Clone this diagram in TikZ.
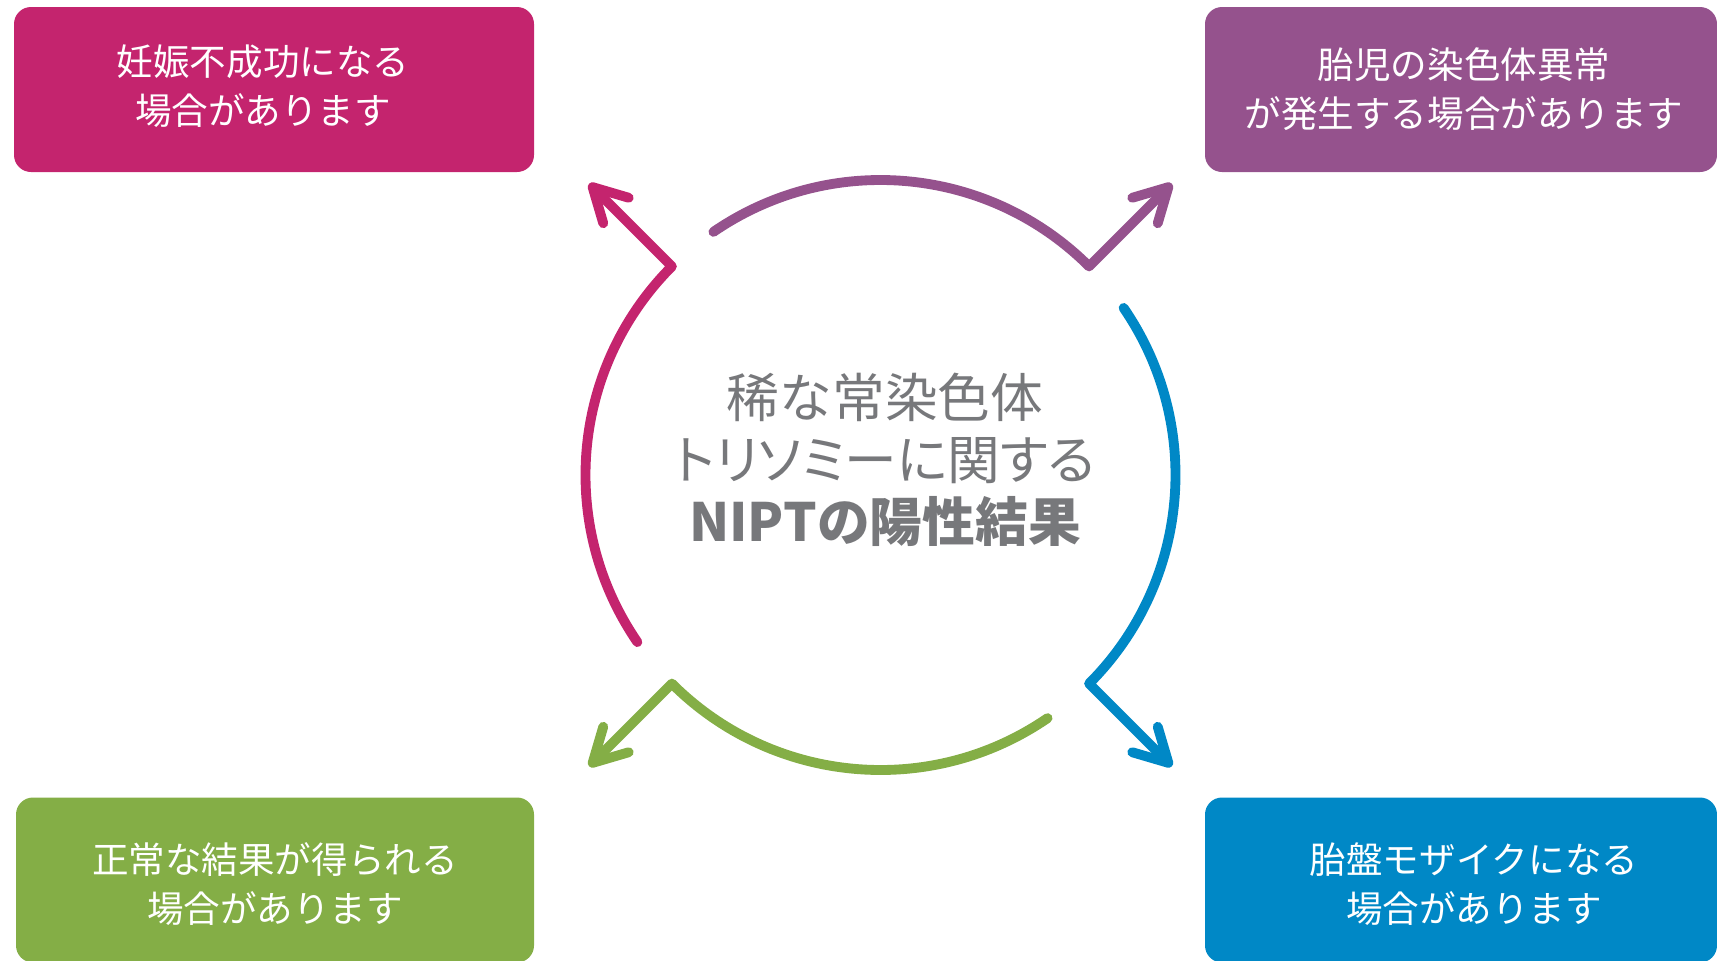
\documentclass[tikz,border=0pt]{standalone}
\usepackage{fontspec}
\setmainfont{Noto Sans CJK JP}
\usepackage{xcolor}
\definecolor{niptmagenta}{HTML}{C4246E}
\definecolor{niptpurple}{HTML}{95528D}
\definecolor{niptgreen}{HTML}{84AE46}
\definecolor{niptblue}{HTML}{0088C6}
\definecolor{niptgrey}{HTML}{77787B}
\usetikzlibrary{arrows.meta, positioning, calc}
\newcommand{\tightkana}[1]{{\addfontfeature{RawFeature=+palt}#1}}
\tikzset{
  outbox/.style={rounded corners=0.17cm, inner sep=0pt, minimum height=1.65cm},
  outtext/.style={text=white, align=center, inner sep=0pt,
    font=\fontsize{10.4}{14}\selectfont},
  cyclearc/.style={line width=2.8pt, line cap=round, line join=round,
    -{Straight Barb[length=3.3mm, width=3.6mm, round]}}
}

\begin{document}
\begin{tikzpicture}
  \useasboundingbox (0,0) rectangle (17.17,9.60);

  % Outcome boxes
  \node[outbox, fill=niptmagenta, minimum width=5.20cm] (tlbox) at (2.74,8.705) {};
  \node[outbox, fill=niptpurple, minimum width=5.12cm] (trbox) at (14.61,8.705) {};
  \node[outbox, fill=niptgreen, minimum width=5.18cm] (blbox) at (2.75,0.80) {};
  \node[outbox, fill=niptblue, minimum width=5.12cm] (brbox) at (14.61,0.80) {};

  \node[outtext] (tl) at ($(tlbox)+(-0.11,0.03)$) {妊娠不成功になる\\場合があります};
  \node[outtext] (tr) at ($(trbox)+(0.03,0)$) {胎児の染色体異常\\が発生する場合があります};
  \node[outtext] (bl) at ($(blbox)+(0,-0.04)$) {正常な結果が得られる\\場合があります};
  \node[outtext] (br) at ($(brbox)+(0.13,-0.04)$) {胎盤モザイクになる\\場合があります};

  % Centre text
  \coordinate (hub) at (8.805,4.85);
  \node[font=\fontsize{15}{17.6}\selectfont, text=niptgrey, align=center] (title) at (8.85,5.00)
    {稀な常染色体\\\tightkana{トリソミーに関する}\\\textbf{NIPTの陽性結果}};

  % Cycle arcs: arc, kink, then out to the box
  \foreach \n/\ang/\col in {tr/45/niptpurple, br/-45/niptblue, bl/-135/niptgreen, tl/135/niptmagenta} {
    \coordinate (tip\n) at ($(hub)+(\ang:4.12)$);
    \draw[cyclearc, \col] ($(hub)+(\ang+79.5:2.95)$)
      arc[start angle=\ang+79.5, delta angle=-79.5, radius=2.95cm] -- (tip\n);
  }
\end{tikzpicture}
\end{document}
